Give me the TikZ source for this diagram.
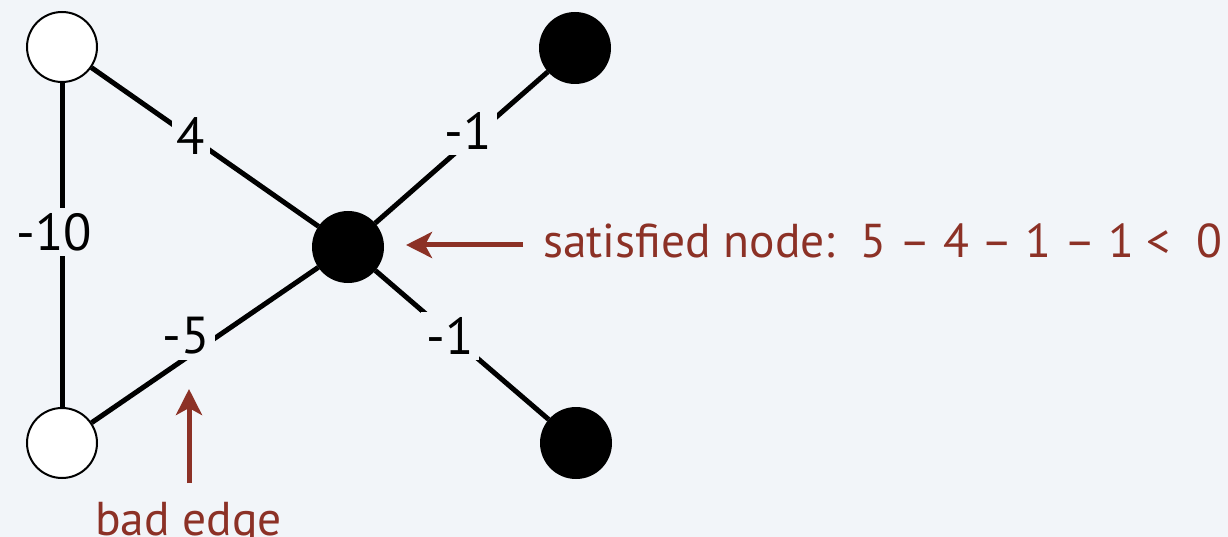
\documentclass[tikz,border=0pt]{standalone}
\usepackage{fontspec}
\setmainfont{PT Sans}
\usetikzlibrary{arrows.meta}
\definecolor{bg}{RGB}{242,245,249}
\definecolor{brick}{RGB}{140,49,38}

\begin{document}
\begin{tikzpicture}[x=1pt,y=-1pt,
  vert/.style={circle, draw=black, line width=2pt, minimum size=70pt, inner sep=0pt},
  unsat/.style={vert, fill=white},
  sat/.style={vert, fill=black},
  edge/.style={line width=5pt},
  wlabel/.style={fill=bg, inner sep=5pt, font=\fontsize{52}{52}\selectfont},
  note/.style={text=brick, inner sep=0pt, font=\fontsize{47.5}{47.5}\selectfont},
  pointer/.style={draw=brick, line width=5pt,
    -{Stealth[length=26pt,width=26pt,inset=7pt]}}
]
\fill[bg] (0,0) rectangle (1228,537);
\useasboundingbox (0,0) rectangle (1228,537);

% vertices
\node[unsat] (a) at (62,47)  {};
\node[unsat] (b) at (62,443) {};
\node[sat]   (c) at (348,247) {};
\node[sat]   (d) at (575,48)  {};
\node[sat]   (e) at (576,443) {};

% edges
\draw[edge] (a) -- (b);
\draw[edge] (a) -- (c);
\draw[edge] (b) -- (c);
\draw[edge] (c) -- (d);
\draw[edge] (c) -- (e);

% edge weights
\node[wlabel] (w-ab) at (54,232)  {-10};
\node[wlabel] (w-ac) at (191,136) {4};
\node[wlabel] (w-bc) at (186,336) {-5};
\node[wlabel] (w-cd) at (468,131) {-1};
\node[wlabel] (w-ce) at (450,336) {-1};

% annotations
\node[note, anchor=base west] (sat-note) at (543,258)
  {satisfied node:\ \ 5 – 4 – 1 – 1 <\ \ 0};
\coordinate (sat-tail) at (523,245);
\coordinate (sat-tip)  at (406,245);
\draw[pointer] (sat-tail) -- (sat-tip);

\node[note, anchor=base west] (bad-note) at (95,535) {bad edge};
\coordinate (bad-tail) at (189,483);
\coordinate (bad-tip)  at (189,389);
\draw[pointer] (bad-tail) -- (bad-tip);
\end{tikzpicture}
\end{document}
